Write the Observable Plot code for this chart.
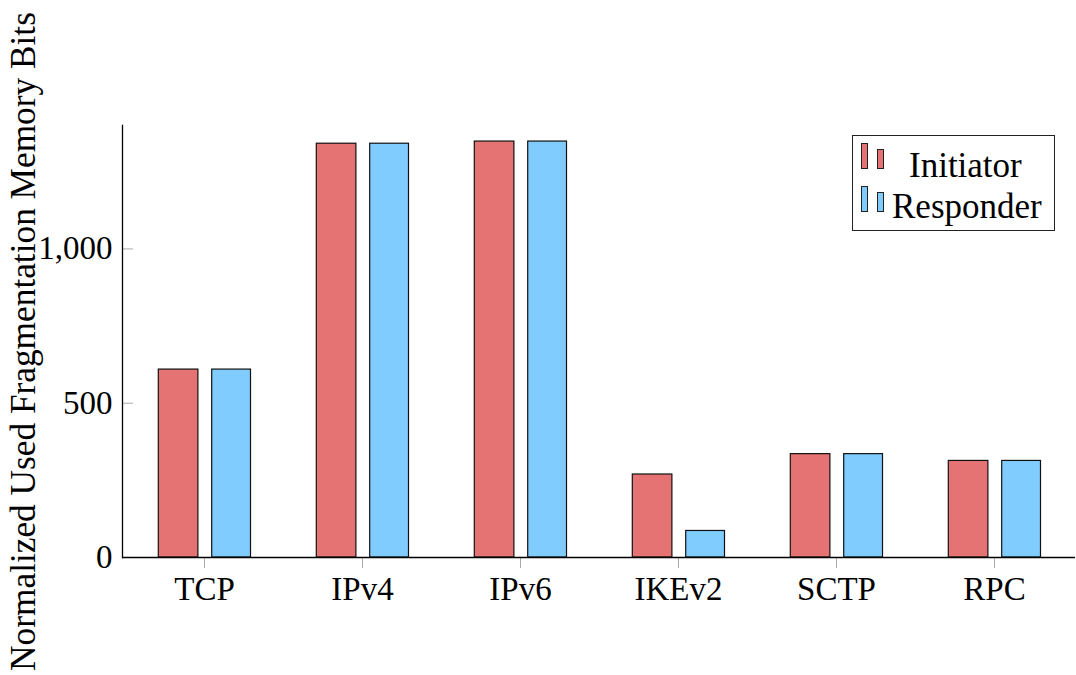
<!DOCTYPE html>
<html>
<head>
<meta charset="utf-8">
<script src="https://cdn.jsdelivr.net/npm/d3@7"></script>
<script src="https://cdn.jsdelivr.net/npm/@observablehq/plot@0.6"></script>
<style>
  html, body { margin: 0; padding: 0; background: #fff; }
  #wrap { position: relative; width: 1076px; height: 675px; font-family: "Liberation Serif", serif; }
  #legend { position: absolute; left: 852px; top: 135px; width: 203px; height: 96px; border: 1px solid #222; background: #fff; box-sizing: border-box; }
  .sw { position: absolute; border: 1px solid #222; box-sizing: border-box; }
  .lt { position: absolute; font-size: 35px; line-height: 1; color: #000; white-space: nowrap; }
</style>
</head>
<body>
<div id="wrap"></div>
<script>
const categories = ["TCP", "IPv4", "IPv6", "IKEv2", "SCTP", "RPC"];
const initiator = [609, 1341, 1348, 269, 335, 313];
const responder = [609, 1341, 1348, 86, 335, 313];
const yTicks = [0, 500, 1000];
const seriesNames = ["Initiator", "Responder"];
const colors = ["#e57373", "#80ccff"];

const initData = categories.map((c, i) => ({category: c, value: initiator[i]}));
const respData = categories.map((c, i) => ({category: c, value: responder[i]}));

const chart = Plot.plot({
  width: 1076,
  height: 675,
  marginLeft: 122,
  marginRight: 1,
  marginTop: 125,
  marginBottom: 118,
  style: {fontFamily: "'Liberation Serif', serif", fontSize: "33px", background: "#fff", color: "#000"},
  x: {type: "band", domain: categories, padding: 0},
  y: {domain: [0, 1400]},
  marks: [
    Plot.barY(initData, {x: "category", y: "value", fill: colors[0], stroke: "#111", strokeWidth: 1.2, insetLeft: 33.3, insetRight: 85.1}),
    Plot.barY(respData, {x: "category", y: "value", fill: colors[1], stroke: "#111", strokeWidth: 1.2, insetLeft: 86.7, insetRight: 32.5}),
    Plot.axisX({tickSize: 11, tickPadding: 8, stroke: "#aaa", fill: "#000", fontSize: 33, label: null}),
    Plot.axisY({ticks: yTicks, tickSize: -11, tickPadding: 21, stroke: "#aaa", fill: "#000", fontSize: 33, label: null}),
    Plot.axisY({ticks: [], tickSize: 0, fontSize: 35.3, fill: "#000",
      label: "Normalized Used Fragmentation Memory Bits", labelArrow: false, labelAnchor: "center", labelOffset: 113}),
    Plot.ruleY([0], {stroke: "#000", strokeWidth: 1.3}),
    Plot.frame({anchor: "left", stroke: "#000", strokeWidth: 1.3})
  ]
});
const wrap = document.getElementById("wrap");
wrap.appendChild(chart);

const legend = document.createElement("div");
legend.id = "legend";
const entries = [
  {name: seriesNames[0], color: colors[0], top: 7, textLeft: 56, textTop: 12},
  {name: seriesNames[1], color: colors[1], top: 50, textLeft: 39, textTop: 53}
];
entries.forEach(e => {
  const a = document.createElement("div");
  a.className = "sw"; a.style.background = e.color;
  a.style.left = "8px"; a.style.top = e.top + "px"; a.style.width = "7px"; a.style.height = "26px";
  const b = document.createElement("div");
  b.className = "sw"; b.style.background = e.color;
  b.style.left = "24px"; b.style.top = (e.top + 6) + "px"; b.style.width = "7px"; b.style.height = "20px";
  const t = document.createElement("div");
  t.className = "lt"; t.textContent = e.name;
  t.style.left = e.textLeft + "px"; t.style.top = e.textTop + "px";
  legend.append(a, b, t);
});
wrap.appendChild(legend);
</script>
</body>
</html>
